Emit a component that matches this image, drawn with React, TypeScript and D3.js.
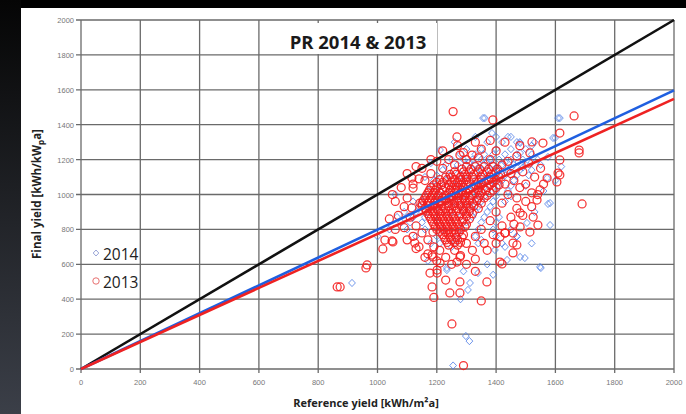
import React, { useEffect } from 'react';
import * as d3 from 'd3';

// axis ticks
const xTicks = [0, 200, 400, 600, 800, 1000, 1200, 1400, 1600, 1800, 2000];
const yTicks = [0, 200, 400, 600, 800, 1000, 1200, 1400, 1600, 1800, 2000];

// reference lines (end points in data units)
const ideal = [[0, 0], [2000, 2000]];
const trend2014 = [[0, 0], [2000, 1597]];
const trend2013 = [[0, 0], [2000, 1548]];

// 2014 dense part, rows of [y, xs]
const core2014: [number, number[]][] = [
  [1330, [1400, 1450]],
  [1300, [1370, 1420, 1480, 1530]],
  [1260, [1300, 1350, 1400, 1450, 1500]],
  [1230, [1280, 1330, 1360, 1390, 1430, 1470, 1520]],
  [1200, [1250, 1290, 1320, 1350, 1380, 1410, 1450, 1490, 1540]],
  [1185, [1310, 1370, 1430, 1475, 1520]],
  [1170, [1230, 1270, 1300, 1330, 1360, 1390, 1420, 1460, 1500, 1550]],
  [1155, [1340, 1400, 1450, 1490]],
  [1140, [1220, 1260, 1290, 1320, 1350, 1380, 1410, 1440, 1480, 1520]],
  [1110, [1200, 1240, 1280, 1310, 1340, 1370, 1400, 1430, 1470, 1510]],
  [1080, [1190, 1230, 1270, 1300, 1330, 1360, 1390, 1420, 1460]],
  [1050, [1180, 1220, 1260, 1290, 1320, 1350, 1380, 1410, 1450, 1500]],
  [1020, [1170, 1210, 1250, 1280, 1310, 1340, 1370, 1400, 1440]],
  [990, [1160, 1200, 1240, 1270, 1300, 1330, 1360, 1400, 1450]],
  [960, [1150, 1190, 1230, 1260, 1290, 1320, 1350, 1390, 1430]],
  [930, [1140, 1180, 1220, 1250, 1280, 1310, 1340, 1380]],
  [900, [1130, 1170, 1210, 1250, 1290, 1330, 1370]],
  [870, [1120, 1160, 1200, 1240, 1280, 1320, 1360, 1410]],
  [840, [1110, 1150, 1200, 1250, 1300, 1350, 1400]],
  [800, [1100, 1160, 1220, 1280, 1340, 1390, 1450]],
  [760, [1130, 1200, 1270, 1330, 1400, 1470]],
  [720, [1180, 1260, 1340, 1420]],
];

const scatter2014 = [
  [1211, 1255], [1160, 1100], [1356, 1438], [1386, 1352], [1609, 1438], [1592, 1324],
  [1572, 1094], [1481, 1295], [1470, 1300], [1066, 871], [1234, 579], [1305, 453],
  [1339, 550], [1437, 625], [1481, 642], [1548, 585], [1504, 837], [1582, 951],
  [1575, 1215], [1551, 579], [1497, 636], [1396, 682], [1582, 825], [1575, 946],
  [1312, 493], [1234, 567], [1255, 20], [914, 493], [1298, 189], [1310, 160],
  [1000, 760], [1040, 800], [1080, 840], [1362, 1438], [1615, 1438], [1599, 1324],
  [1481, 1238], [1520, 1280], [1440, 1330], [1330, 1330], [1260, 1300], [1180, 1180],
  [1120, 960], [1090, 900], [1060, 1000], [1430, 700], [1370, 600], [1290, 560],
  [1250, 700], [1210, 720], [1530, 900], [1560, 1020], [1600, 1080], [1620, 1160],
  [1350, 740], [1470, 760], [1520, 720], [1170, 620], [1390, 540], [1280, 400],
];

// 2013 dense part, rows of [y, xs]
const core2013: [number, number[]][] = [
  [1160, [1300, 1330, 1360, 1390]],
  [1145, [1285, 1315, 1345, 1375, 1405]],
  [1130, [1260, 1290, 1310, 1340, 1370, 1400]],
  [1115, [1245, 1265, 1295, 1325, 1355, 1385, 1415]],
  [1100, [1230, 1250, 1280, 1300, 1320, 1350, 1380, 1410]],
  [1085, [1210, 1235, 1260, 1280, 1300, 1325, 1350, 1375, 1400]],
  [1070, [1200, 1220, 1250, 1270, 1290, 1310, 1340, 1360, 1390]],
  [1055, [1190, 1215, 1240, 1260, 1280, 1300, 1330, 1350, 1380, 1410]],
  [1040, [1180, 1200, 1230, 1250, 1270, 1290, 1320, 1340, 1370, 1400]],
  [1025, [1175, 1195, 1220, 1245, 1265, 1285, 1310, 1340, 1365, 1390]],
  [1010, [1170, 1190, 1210, 1240, 1260, 1280, 1300, 1330, 1350, 1380]],
  [995, [1165, 1185, 1205, 1230, 1250, 1275, 1295, 1320, 1345, 1370]],
  [980, [1160, 1180, 1200, 1220, 1240, 1270, 1290, 1310, 1340, 1360]],
  [965, [1155, 1175, 1195, 1215, 1230, 1250, 1270, 1295, 1310, 1335]],
  [950, [1150, 1170, 1190, 1210, 1240, 1260, 1280, 1300, 1320, 1350]],
  [935, [1150, 1170, 1190, 1215, 1240, 1260, 1280, 1300, 1325]],
  [920, [1160, 1180, 1200, 1230, 1250, 1270, 1290, 1310, 1340]],
  [905, [1165, 1185, 1205, 1220, 1240, 1265, 1290, 1310]],
  [890, [1170, 1190, 1210, 1230, 1250, 1280, 1300, 1320]],
  [875, [1175, 1195, 1215, 1235, 1255, 1275, 1300]],
  [860, [1180, 1200, 1220, 1240, 1260, 1290, 1310]],
  [845, [1185, 1205, 1225, 1245, 1265, 1285]],
  [830, [1190, 1210, 1230, 1250, 1270, 1300]],
  [815, [1195, 1215, 1235, 1255, 1275, 1295]],
  [800, [1200, 1220, 1240, 1260, 1280]],
  [785, [1210, 1230, 1250, 1275]],
  [770, [1220, 1240, 1260, 1290]],
  [755, [1225, 1245, 1265, 1285]],
  [740, [1230, 1250, 1270]],
  [725, [1235, 1260, 1280]],
  [710, [1240, 1270]],
];

const scatter2013 = [
  [1100, 980], [1090, 930], [1120, 1060], [1140, 1090], [1110, 870], [1130, 820],
  [1150, 780], [1170, 740], [1190, 700], [1210, 680], [1260, 680], [1300, 720],
  [1330, 760], [1350, 800], [1380, 850], [1400, 900], [1420, 950], [1440, 1000],
  [1430, 1060], [1450, 1120], [1420, 1170], [1380, 1200], [1340, 1210], [1300, 1200],
  [1260, 1170], [1220, 1150], [1180, 1120], [1160, 1080], [1460, 1080], [1480, 1040],
  [1470, 980], [1490, 1130], [1510, 1180], [1440, 1190], [1470, 1220], [1400, 1250],
  [1350, 1260], [1290, 1240], [1240, 1200], [1200, 1190], [1150, 1150], [1080, 1040],
  [1060, 960], [1070, 880], [1090, 810], [1120, 760], [1140, 700], [1170, 660],
  [1230, 640], [1280, 650], [1320, 680], [1360, 720], [1390, 770], [1420, 820],
  [1450, 870], [1470, 920], [1500, 960], [1520, 1010], [1500, 1060], [1530, 1100],
  [1550, 1150], [1560, 1060], [1540, 1000], [1520, 930], [1490, 880], [1460, 830],
  [1430, 780], [1400, 720], [1370, 680], [1330, 630], [1300, 600], [1250, 600],
  [1200, 620], [1160, 640], [1130, 690], [1100, 740], [1060, 800], [1040, 860],
  [1050, 1000], [1100, 1120], [1130, 1160], [1180, 1200], [1220, 1250], [1270, 1280],
  [1330, 1300], [1380, 1310], [1430, 1300], [1480, 1280],
  [1255, 1475], [1268, 1330], [1663, 1450], [1615, 1352], [1680, 1255], [1680, 1238],
  [1690, 946], [1018, 688], [1049, 734], [965, 596], [864, 470], [1184, 653],
  [1201, 567], [1184, 470], [1268, 613], [1278, 642], [1116, 1094], [1120, 1037],
  [1319, 1226], [1278, 1226], [1389, 1427], [1521, 1301], [1558, 1295], [1615, 1198],
  [1609, 1123], [1605, 1072], [1514, 1238], [1025, 739], [1052, 728], [1116, 923],
  [1143, 951], [1187, 785], [1126, 722], [1187, 642], [1211, 607], [1177, 550],
  [1201, 550], [1244, 436], [1278, 436], [1278, 499], [1369, 499], [1413, 613],
  [1413, 757], [1457, 779], [1481, 814], [1538, 968], [1548, 1026], [1572, 1094],
  [1615, 1112], [1420, 602], [1457, 665], [1470, 711], [1541, 825], [1514, 785],
  [1525, 871], [1481, 894], [1290, 20], [1251, 258], [1190, 410], [1430, 779],
  [1457, 722], [874, 470], [961, 579], [1330, 560], [1230, 510], [1350, 390],
];

const W = 686;
const H = 414;

const App = () => {
  useEffect(() => {
    document.body.style.margin = '0';
    document.body.style.background = '#000';
  }, []);

  const x = d3.scaleLinear().domain([0, 2000]).range([81, 674]);
  const y = d3.scaleLinear().domain([0, 2000]).range([369, 20]);

  const pts2014 = core2014.flatMap(([yy, xs]) => xs.map((xx) => [xx, yy])).concat(scatter2014);
  const pts2013 = core2013.flatMap(([yy, xs]) => xs.map((xx) => [xx, yy])).concat(scatter2013);

  const line = d3.line<number[]>().x((d) => x(d[0])).y((d) => y(d[1]));
  const diamond = 'M0,-3.6L3.4,0L0,3.6L-3.4,0Z';
  const tickFont = "'Liberation Sans', Arial, sans-serif";
  const labelFont = "'Open Sans', 'Liberation Sans', sans-serif";

  return (
    <svg width={W} height={H} style={{ display: 'block' }}>
      <defs>
        <linearGradient id="side" x1="0" y1="0" x2="0" y2="1">
          <stop offset="0" stopColor="#050505" />
          <stop offset="1" stopColor="#3b3f48" />
        </linearGradient>
      </defs>
      <rect width={W} height={H} fill="#000" />
      <rect x={0} y={0} width={21} height={H} fill="url(#side)" />
      <rect x={21} y={8} width={665} height={H - 8} fill="#fff" />

      {/* grid */}
      {xTicks.map((t) => (
        <line key={'gx' + t} x1={x(t)} x2={x(t)} y1={y(2000)} y2={y(0) + 4} stroke="#6a6a6a" strokeWidth={1.3} />
      ))}
      {yTicks.map((t) => (
        <line key={'gy' + t} x1={x(0) - 5} x2={x(2000)} y1={y(t)} y2={y(t)} stroke="#6a6a6a" strokeWidth={1.3} />
      ))}

      {/* tick labels */}
      {yTicks.map((t) => (
        <text key={'ly' + t} x={74} y={y(t) + 3} textAnchor="end" fontSize={7.5} fill="#777" fontFamily={tickFont}>
          {t}
        </text>
      ))}
      {xTicks.map((t) => (
        <text key={'lx' + t} x={x(t)} y={385} textAnchor="middle" fontSize={7.5} fill="#777" fontFamily={tickFont}>
          {t}
        </text>
      ))}

      {/* title box */}
      <rect x={283} y={23} width={154} height={31} fill="#fff" />
      <text x={358} y={49} textAnchor="middle" fontSize={18.5} fontWeight="bold" fill="#1a1a1a" fontFamily={labelFont}>
        PR 2014 &amp; 2013
      </text>

      {/* 2014 points */}
      <g fill="none" stroke="#4d7de6" strokeWidth={1} strokeOpacity={0.8}>
        {pts2014.map((p, i) => (
          <path key={'b' + i} d={diamond} transform={`translate(${x(p[0])},${y(p[1])})`} />
        ))}
      </g>
      {/* 2013 points */}
      <g fill="none" stroke="#f41e1e" strokeWidth={1.25} strokeOpacity={0.9}>
        {pts2013.map((p, i) => (
          <circle key={'r' + i} cx={x(p[0])} cy={y(p[1])} r={4} />
        ))}
      </g>

      {/* lines */}
      <path d={line(ideal) || ''} stroke="#111" strokeWidth={2.6} fill="none" />
      <path d={line(trend2014) || ''} stroke="#1f5fe0" strokeWidth={2.6} fill="none" />
      <path d={line(trend2013) || ''} stroke="#ee2222" strokeWidth={2.6} fill="none" />

      {/* legend */}
      <path d="M0,-3L2.8,0L0,3L-2.8,0Z" transform="translate(96,253)" fill="none" stroke="#9aa6d8" strokeWidth={1} />
      <text x={103} y={260} fontSize={15.5} fill="#222" fontFamily={labelFont}>2014</text>
      <circle cx={96} cy={281} r={3.2} fill="none" stroke="#e87070" strokeWidth={1} />
      <text x={103} y={288} fontSize={15.5} fill="#222" fontFamily={labelFont}>2013</text>

      {/* axis titles */}
      <text x={366} y={407} textAnchor="middle" fontSize={11} fontWeight="bold" fill="#222" fontFamily={labelFont}>
        Reference yield [kWh/m²a]
      </text>
      <text transform="translate(41,194) rotate(-90)" textAnchor="middle" fontSize={11.5} fontWeight="bold" fill="#222" fontFamily={labelFont}>
        Final yield [kWh/kW<tspan fontSize={8} dy={3}>p</tspan><tspan dy={-3}>a]</tspan>
      </text>
    </svg>
  );
};

export default App;
